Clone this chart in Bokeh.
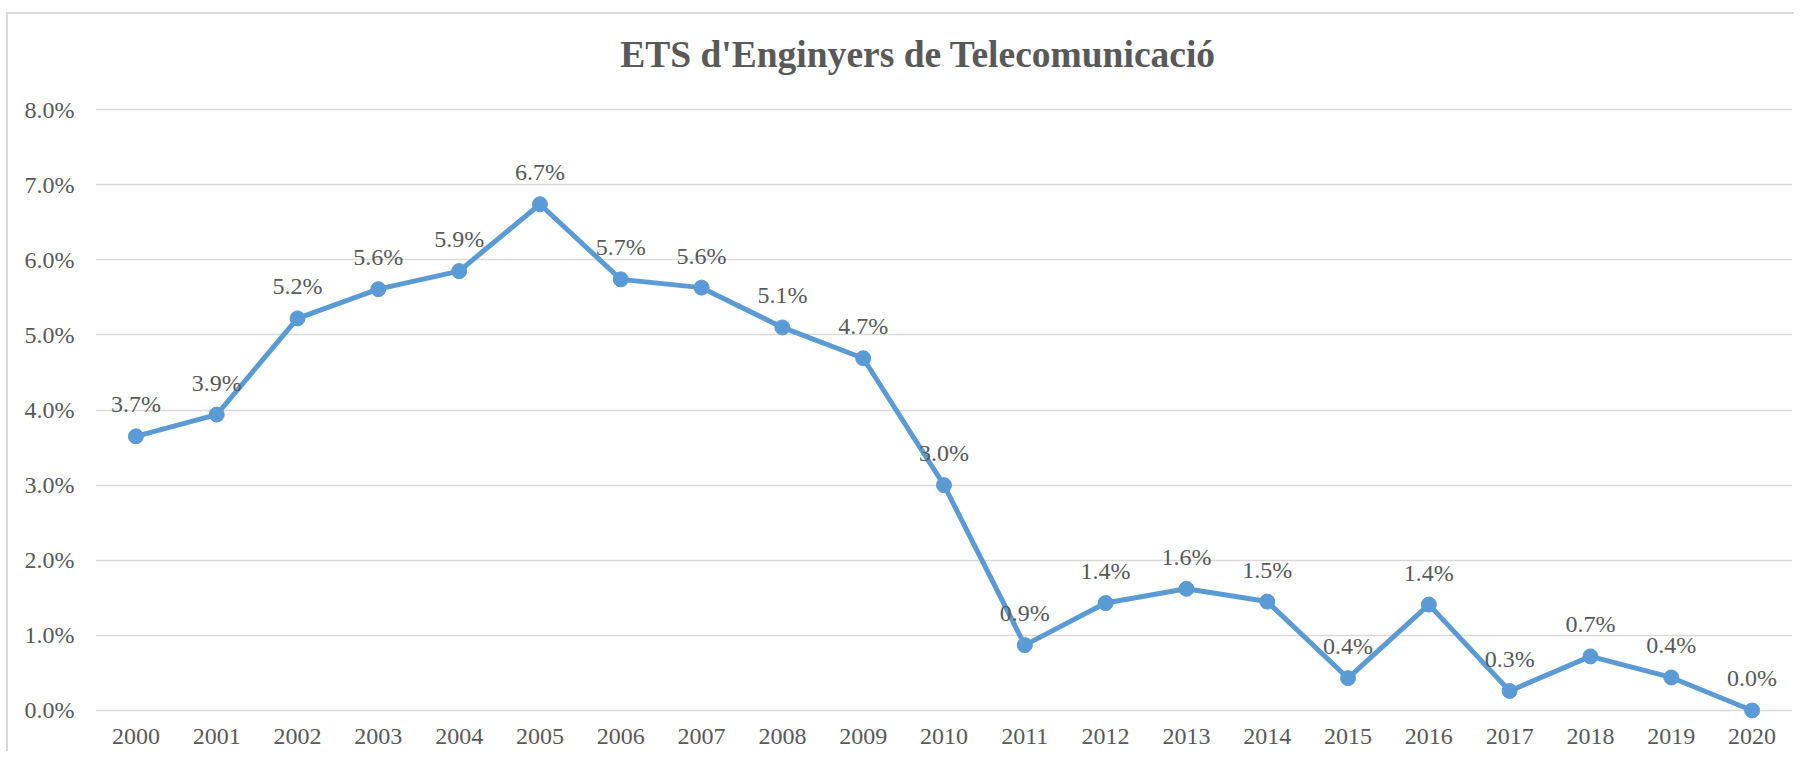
from bokeh.plotting import figure
from bokeh.models import ColumnDataSource, LabelSet, Label, Range1d, FixedTicker, PrintfTickFormatter
from bokeh.embed import file_html
from bokeh.resources import INLINE

years = [str(y) for y in range(2000, 2021)]
rates = [3.65, 3.94, 5.22, 5.61, 5.85, 6.74, 5.74, 5.63, 5.10, 4.69, 3.00,
         0.87, 1.43, 1.62, 1.45, 0.43, 1.41, 0.26, 0.72, 0.44, 0.00]
labels = ["3.7%", "3.9%", "5.2%", "5.6%", "5.9%", "6.7%", "5.7%", "5.6%", "5.1%", "4.7%", "3.0%",
          "0.9%", "1.4%", "1.6%", "1.5%", "0.4%", "1.4%", "0.3%", "0.7%", "0.4%", "0.0%"]
y_ticks = [0, 1, 2, 3, 4, 5, 6, 7, 8]
title_text = "ETS d'Enginyers de Telecomunicació"

FONT = "Liberation Serif"
TXT = "#595959"
BLUE = "#5B9BD5"
GRID = "#D9D9D9"

src = ColumnDataSource(dict(year=years, rate=rates, label=labels))

p = figure(x_range=years, y_range=Range1d(-0.12, 9.2), width=1788, height=739,
           output_backend="svg", toolbar_location=None,
           min_border_left=87, min_border_right=4, min_border_top=5, min_border_bottom=34)
p.styles = {"margin-top": "12px", "margin-left": "6px",
            "border-top": "2px solid #D9D9D9", "border-left": "2px solid #D9D9D9"}

# chart title, centred over the middle category (synthetic coordinate)
title = Label(x=len(years) / 2, y=8.73, x_offset=-26, text=title_text, text_align="center",
              text_baseline="middle", text_font=FONT, text_font_size="37.5px",
              text_font_style="bold", text_color=TXT)
p.add_layout(title)

p.outline_line_color = None
p.background_fill_color = "white"
p.border_fill_color = "white"

p.line("year", "rate", source=src, line_color=BLUE, line_width=5)
p.scatter("year", "rate", source=src, size=15, fill_color=BLUE, line_color=BLUE)

lbl = LabelSet(x="year", y="rate", text="label", source=src, text_align="center",
               text_baseline="alphabetic", y_offset=24, text_font=FONT,
               text_font_size="24px", text_color=TXT)
p.add_layout(lbl)

p.xgrid.grid_line_color = None
p.ygrid.grid_line_color = GRID
p.ygrid.grid_line_width = 1.5
p.yaxis.ticker = FixedTicker(ticks=y_ticks)
p.yaxis.formatter = PrintfTickFormatter(format="%.1f%%")

for ax in (p.xaxis, p.yaxis):
    ax.axis_line_color = None
    ax.major_tick_line_color = None
    ax.minor_tick_line_color = None
    ax.major_label_text_font = FONT
    ax.major_label_text_font_size = "24px"
    ax.major_label_text_color = TXT
p.yaxis.major_label_standoff = 15
p.xaxis.major_label_standoff = 3

open("out.html", "w").write(file_html(p, INLINE))
